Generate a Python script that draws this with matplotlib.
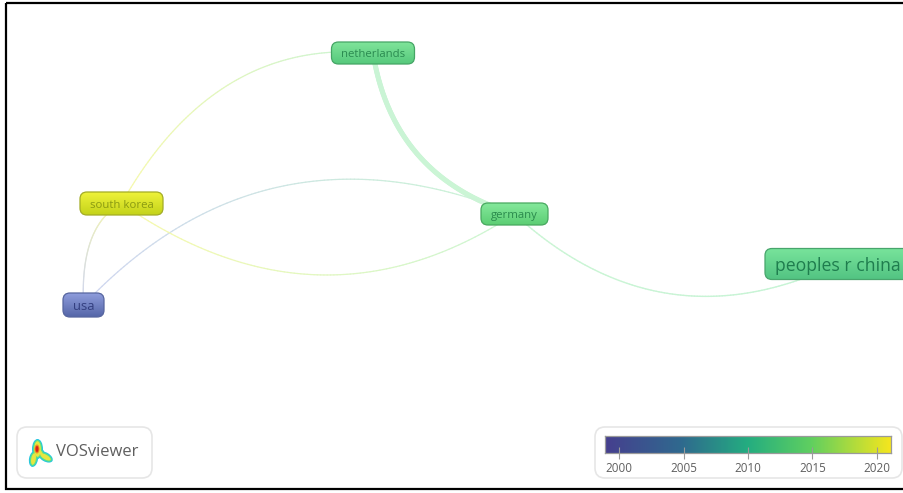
import numpy as np
import matplotlib
matplotlib.use('Agg')
import matplotlib.pyplot as plt
from matplotlib.collections import LineCollection
from matplotlib.colors import to_rgb, LinearSegmentedColormap
from matplotlib.patches import FancyBboxPatch, Ellipse, Rectangle

plt.rcParams['font.family'] = ['Open Sans', 'DejaVu Sans']

W, H = 904, 493

## ------------  Data (pixel units)  -------------------------------------
labels = ['netherlands', 'germany', 'south korea', 'usa', 'peoples r china']
node_x = [373, 514.5, 121.5, 83.5, 837.5]
node_y = [53, 214, 203.5, 305, 264]
node_w = [83, 67, 83, 41, 145]
node_h = [22, 22, 23, 24, 31]
node_fs = [8.2, 8.2, 8.2, 9.4, 12.7]
node_top = ['#7fe49a', '#84e89b', '#eef23a', '#8e9cdc', '#78e39b']
node_bottom = ['#56c97c', '#5cce74', '#c4d31a', '#5566a8', '#53c583']
node_edge = ['#45a565', '#48a85f', '#a3ac25', '#56659f', '#48a56c']
node_text = ['#2a8a50', '#2a8a4c', '#8a9a12', '#343f80', '#1f7d4e']

edge_a = [0, 0, 2, 3, 2, 1]
edge_b = [1, 2, 3, 1, 1, 4]
edge_cx = [393, 215, 80, 265, 320, 661]
edge_cy = [177, 38, 225, 113, 341, 348]
edge_lw = [3.6, 0.9, 0.9, 0.9, 0.9, 1.0]

cbar_ticks = [2000, 2005, 2010, 2015, 2020]
cbar_lim = [1998.9, 2021.1]
cbar_colors = ['#463f8e', '#2f6a8e', '#24ad80', '#5fcf60', '#f5e61e']
cbar_stops = [0.0, 0.27, 0.5, 0.72, 1.0]

## ------------  Figure  ---------------
fig = plt.figure(figsize=(W / 100, H / 100), dpi=100)
ax = fig.add_axes([0, 0, 1, 1])
ax.set_xlim(0, W)
ax.set_ylim(H, 0)
ax.axis('off')

# frame of the screenshot
ax.add_patch(Rectangle((6.5, 2.5), W + 10, 486.5, fill=False, ec='black', lw=1.6, zorder=1))

def soft(color, amount=0.3):
    c = np.array(to_rgb(color))
    return 1 - amount * (1 - c)

## ------------  Links  ---------------
t = np.linspace(0, 1, 120)[:, None]
for a, b, cx, cy, lw in zip(edge_a, edge_b, edge_cx, edge_cy, edge_lw):
    p0 = np.array([node_x[a], node_y[a]])
    p2 = np.array([node_x[b], node_y[b]])
    c = np.array([cx, cy])
    pts = (1 - t) ** 2 * p0 + 2 * t * (1 - t) * c + t ** 2 * p2
    segs = np.stack([pts[:-1], pts[1:]], axis=1)
    col_a, col_b = soft(node_top[a], 0.42), soft(node_top[b], 0.42)
    cols = (1 - t[:-1]) * col_a + t[:-1] * col_b
    ax.add_collection(LineCollection(segs, colors=cols, linewidths=lw, zorder=2, capstyle='round'))

## ------------  Nodes  ---------------
for i, name in enumerate(labels):
    x0 = node_x[i] - node_w[i] / 2
    y0 = node_y[i] - node_h[i] / 2
    cmap = LinearSegmentedColormap.from_list('n', [node_top[i], node_bottom[i]])
    box = FancyBboxPatch((x0 + 6, y0 + 6), node_w[i] - 12, node_h[i] - 12,
                         boxstyle='round,pad=6,rounding_size=7',
                         fc='none', ec=node_edge[i], lw=0.9, zorder=4)
    ax.add_patch(box)
    im = ax.imshow(np.linspace(0, 1, 32)[:, None], cmap=cmap, aspect='auto', zorder=3,
                   extent=(x0, x0 + node_w[i], y0 + node_h[i], y0))
    im.set_clip_path(box)
    ax.text(node_x[i], node_y[i], name, ha='center', va='center_baseline',
            fontsize=node_fs[i], color=node_text[i], zorder=5, clip_on=True)
ax.set_xlim(0, W)
ax.set_ylim(H, 0)

## ------------  VOSviewer box  ---------------
ax.add_patch(FancyBboxPatch((27, 437), 115, 31, boxstyle='round,pad=10,rounding_size=10',
                            fc='white', ec='#e6e6e6', lw=1.2, zorder=3))
# logo: blobs from cold to hot
logo_x = [37.5, 33.5, 45.5, 41]
logo_y = [449, 459, 457, 453]
logo_w = [9, 7, 14, 5]
logo_h = [18, 14, 7, 10]
logo_ang = [0, 10, 30, -30]
for col, grow in zip(['#27c6e0', '#57e08a', '#e6e640'], [2.0, 0.0, -2.4]):
    for lx, ly, lw_, lh, la in zip(logo_x, logo_y, logo_w, logo_h, logo_ang):
        ax.add_patch(Ellipse((lx, ly), lw_ + grow, lh + grow, angle=la, fc=col, ec='none', zorder=4))
ax.add_patch(Ellipse((37, 449), 5, 9, fc='#f08a20', ec='none', zorder=5))
ax.add_patch(Ellipse((37, 449), 3, 6, fc='#d8201c', ec='none', zorder=5))
ax.text(56, 452.5, 'VOSviewer', ha='left', va='center', fontsize=12, color='#5f5f5f', zorder=5)

## ------------  Colour bar  ---------------
ax.add_patch(FancyBboxPatch((605, 437), 287, 31, boxstyle='round,pad=10,rounding_size=10',
                            fc='white', ec='#e6e6e6', lw=1.2, zorder=3))
cbar_cmap = LinearSegmentedColormap.from_list('vos', list(zip(cbar_stops, cbar_colors)))
cax = fig.add_axes([605 / W, 1 - 453 / H, 286 / W, 17 / H], zorder=6)
cax.imshow(np.linspace(0, 1, 256)[None, :], cmap=cbar_cmap, aspect='auto',
           extent=(cbar_lim[0], cbar_lim[1], 0, 1))
cax.set_xlim(cbar_lim)
cax.set_yticks([])
cax.set_xticks(cbar_ticks)
cax.tick_params(axis='x', direction='inout', length=8.5, width=0.8, color='#9a9a9a',
                labelsize=8.4, labelcolor='#5f5f5f', pad=2.5)
for s in cax.spines.values():
    s.set_color('#9a9a9a')
    s.set_linewidth(0.9)

fig.savefig('out.png', dpi=100)
